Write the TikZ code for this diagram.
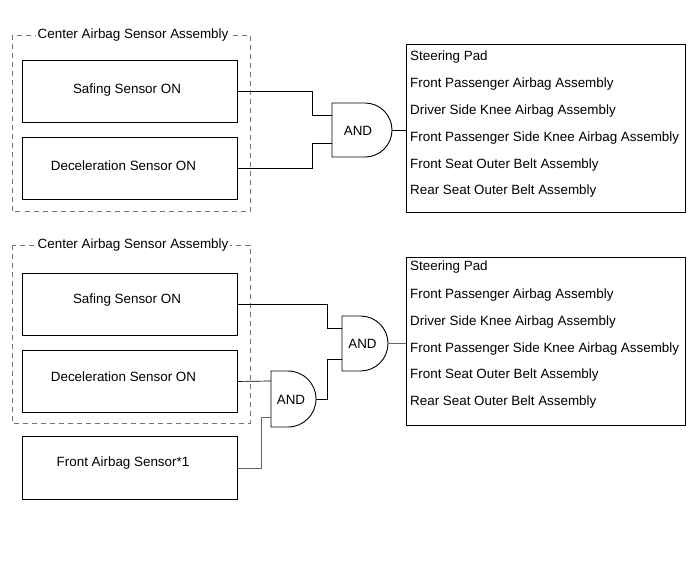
\documentclass[tikz,border=0pt]{standalone}
\usepackage{fontspec}
\setmainfont{Liberation Sans}
\begin{document}
\begin{tikzpicture}[x=1pt,y=-1pt,
  every node/.style={font=\fontsize{13.4}{16}\selectfont, inner sep=0pt},
  sensor/.style={draw, line width=0.9pt, minimum width=215pt, minimum height=62pt, anchor=north west},
  outbox/.style={draw, line width=0.9pt, minimum width=279pt, minimum height=168pt, anchor=north west},
  item/.style={anchor=west},
  grp/.style={draw=black!55, line width=0.8pt, dash pattern=on 5pt off 4pt},
  grptitle/.style={anchor=west, fill=white, inner xsep=1.5pt, inner ysep=1pt},
  gate/.style={draw, line width=0.9pt},
  wire/.style={draw, line width=0.7pt},
  wireg/.style={draw=black!60, line width=0.7pt}]
\useasboundingbox (0,0) rectangle (691,562);

% ---------- Top diagram ----------
\draw[grp] (12,35) rectangle (250,211.5);
\node[grptitle] (t1) at (36,35) {Center Airbag Sensor Assembly};
\node[sensor] (safe1) at (22,59.5) {};
\node (safe1t) at (127,90.5) {Safing Sensor ON};
\node[sensor] (dec1) at (22,137) {};
\node (dec1t) at (123.5,165.5) {Deceleration Sensor ON};

% AND gate A
\draw[gate] (332,103) -- (365,103) .. controls (379.9,103) and (392,115.1) .. (392,130)
  .. controls (392,144.9) and (379.9,157) .. (365,157) -- (332,157) -- cycle;
\node (gA) at (358,130.5) {AND};
\coordinate (gAi1) at (332,115);
\coordinate (gAi2) at (332,143);
\coordinate (gAo) at (392,130);

\node[outbox] (rb1) at (406,44) {};
\node[item] (r1a) at (410,57) {Steering Pad};
\node[item] (r1b) at (410,84) {Front Passenger Airbag Assembly};
\node[item] (r1c) at (410,111) {Driver Side Knee Airbag Assembly};
\node[item] (r1d) at (410,138.5) {Front Passenger Side Knee Airbag Assembly};
\node[item] (r1e) at (410,165) {Front Seat Outer Belt Assembly};
\node[item] (r1f) at (410,191.5) {Rear Seat Outer Belt Assembly};

\draw[wire] (safe1.east) -| ([xshift=-20pt]gAi1) -- (gAi1);
\draw[wire] (dec1.east) -| ([xshift=-20pt]gAi2) -- (gAi2);
\draw[wire] (gAo) -- (gAo -| rb1.west);

% ---------- Bottom diagram ----------
\draw[grp] (12,245) rectangle (250,423);
\node[grptitle] (t2) at (36,245) {Center Airbag Sensor Assembly};
\node[sensor] (safe2) at (22,272.5) {};
\node (safe2t) at (127,300.5) {Safing Sensor ON};
\node[sensor] (dec2) at (22,350) {};
\node (dec2t) at (123.5,376.5) {Deceleration Sensor ON};
\node[sensor, minimum height=63pt] (fas) at (22,436) {};
\node (fast) at (123,463) {Front Airbag Sensor*1};

% AND gate B (upper)
\draw[gate] (342,316) -- (360.5,316) .. controls (375.7,316) and (388,328.3) .. (388,343.5)
  .. controls (388,358.7) and (375.7,371) .. (360.5,371) -- (342,371) -- cycle;
\node (gB) at (362.5,343.5) {AND};
\coordinate (gBi1) at (342,328.5);
\coordinate (gBi2) at (342,359);
\coordinate (gBo) at (388,343.5);

% AND gate C (lower)
\draw[gate] (271,371) -- (288,371) .. controls (303.5,371) and (316,383.5) .. (316,399)
  .. controls (316,414.5) and (303.5,427) .. (288,427) -- (271,427) -- cycle;
\node (gC) at (291,399.5) {AND};
\coordinate (gCi1) at (271,381);
\coordinate (gCi2) at (271,417);
\coordinate (gCo) at (316,399);

\node[outbox, minimum height=168pt] (rb2) at (406,257) {};
\node[item] (r2a) at (410,267.5) {Steering Pad};
\node[item] (r2b) at (410,295) {Front Passenger Airbag Assembly};
\node[item] (r2c) at (410,322) {Driver Side Knee Airbag Assembly};
\node[item] (r2d) at (410,349) {Front Passenger Side Knee Airbag Assembly};
\node[item] (r2e) at (410,375.5) {Front Seat Outer Belt Assembly};
\node[item] (r2f) at (410,402) {Rear Seat Outer Belt Assembly};

\draw[wire] (safe2.east) -| ([xshift=-15pt]gBi1) -- (gBi1);
\draw[wire] (gCo) -| ([xshift=-15pt]gBi2) -- (gBi2);
\draw[wire] (dec2.east) -- (gCi1);
\draw[wireg] (fas.east) -| ([xshift=-10pt]gCi2) -- (gCi2);
\draw[wireg] (gBo) -- (gBo -| rb2.west);
\end{tikzpicture}
\end{document}
